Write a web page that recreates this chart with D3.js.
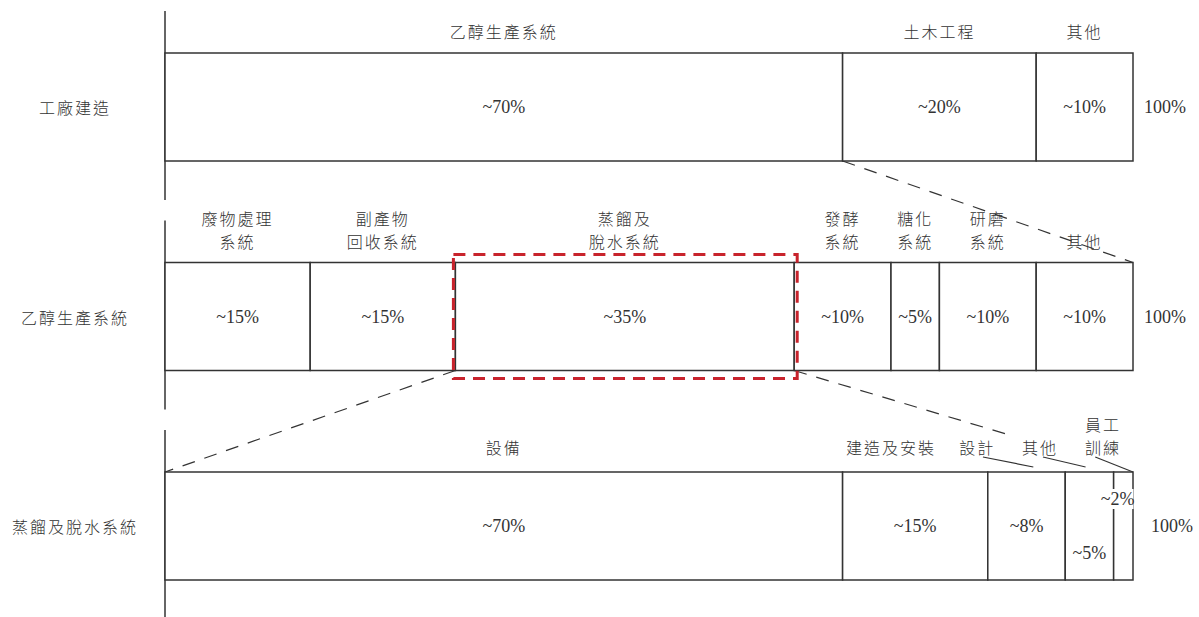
<!doctype html>
<html>
<head>
  <meta charset="utf-8">
  <title>工廠建造成本分解</title>
  <style>
    html, body { margin: 0; padding: 0; background: #fff; }
    svg { display: block; }
    .zh { font-family: "Noto Sans CJK TC", "Noto Sans CJK SC", sans-serif; font-weight: 300; }
    .num { font-family: "Liberation Serif", "Times New Roman", serif; }
  </style>
</head>
<body>
<div id="chart"></div>
<script src="https://cdn.jsdelivr.net/npm/d3@7/dist/d3.min.js"></script>
<script>
  // ---- data ----
  const rowNames = ["工廠建造", "乙醇生產系統", "蒸餾及脫水系統"];

  const plantParts = ["乙醇生產系統", "土木工程", "其他"];
  const plantShare = [70, 20, 10];

  const ethanolParts = [["廢物處理", "系統"], ["副產物", "回收系統"], ["蒸餾及", "脫水系統"],
                        ["發酵", "系統"], ["糖化", "系統"], ["研磨", "系統"], ["其他"]];
  const ethanolShare = [15, 15, 35, 10, 5, 10, 10];

  const distillParts = [["設備"], ["建造及安裝"], ["設計"], ["其他"], ["員工", "訓練"]];
  const distillShare = [70, 15, 8, 5, 2];

  const totalLabel = "100%";

  // ---- layout ----
  const W = 1199, H = 617;
  const barH = 108;
  const ink = "#333";
  const zhSize = 16, lineGap = 23;

  const x = d3.scaleLinear().domain([0, 100]).range([165, 1133]);
  const y = d3.scaleLinear().domain([0, 2]).range([53, 472]);

  const svg = d3.select("#chart").append("svg")
      .attr("width", W)
      .attr("height", H);

  function toSegs(shares) {
    let acc = 0;
    return shares.map(v => { const s = { x0: acc, x1: acc + v, v: v }; acc += v; return s; });
  }

  const rows = [
    { segs: toSegs(plantShare), labels: plantParts.map(d => [d]) },
    { segs: toSegs(ethanolShare), labels: ethanolParts },
    { segs: toSegs(distillShare), labels: distillParts }
  ];

  // label overrides for the crowded third row (in % units)
  const row3LabelAt = [35, 75, 83.9, 90.4, 96.9];
  const row3Leaders = [null, null, [84.5, 89.7], [90.7, 95.1], [96.1, 100]];
  const row3ValueDy = [0, 0, 0, 27, -27];
  const row3ValueAt = [35, 77.5, 89, 95.5, 98.4];

  // zoom guides (dashed lines)
  svg.append("line")
      .attr("x1", x(70)).attr("y1", y(0) + barH)
      .attr("x2", x(100)).attr("y2", y(1))
      .attr("stroke", ink).attr("stroke-width", 1.2)
      .attr("stroke-dasharray", "13,10");

  svg.append("line")
      .attr("x1", x(30)).attr("y1", y(1) + barH)
      .attr("x2", x(0)).attr("y2", y(2))
      .attr("stroke", ink).attr("stroke-width", 1.2)
      .attr("stroke-dasharray", "13,10");

  const t = 0.65;
  svg.append("line")
      .attr("x1", x(65)).attr("y1", y(1) + barH)
      .attr("x2", x(65) + (x(100) - x(65)) * t)
      .attr("y2", y(1) + barH + (y(2) - y(1) - barH) * t)
      .attr("stroke", ink).attr("stroke-width", 1.2)
      .attr("stroke-dasharray", "13,10");

  rows.forEach((row, r) => {
    const top = y(r);
    const g = svg.append("g");

    // left axis piece
    g.append("line")
        .attr("x1", x(0)).attr("x2", x(0))
        .attr("y1", top - 42).attr("y2", top + barH + (r === 2 ? 40 : 39))
        .attr("stroke", ink).attr("stroke-width", 1.5);

    // row title
    g.append("text").attr("class", "zh")
        .attr("x", 75).attr("y", top + barH / 2)
        .attr("text-anchor", "middle").attr("dominant-baseline", "central")
        .attr("font-size", zhSize).attr("letter-spacing", 2).attr("fill", ink)
        .text(rowNames[r]);

    // segments
    g.selectAll("rect").data(row.segs).join("rect")
        .attr("x", d => x(d.x0)).attr("y", top)
        .attr("width", d => x(d.x1) - x(d.x0)).attr("height", barH)
        .attr("fill", "#fff").attr("stroke", ink).attr("stroke-width", 1.5);

    // segment names above the bar
    row.segs.forEach((s, i) => {
      const lines = row.labels[i];
      const cx = r === 2 ? x(row3LabelAt[i]) : x((s.x0 + s.x1) / 2);
      lines.forEach((ln, k) => {
        g.append("text").attr("class", "zh")
            .attr("x", cx)
            .attr("y", top - 22 - (lines.length - 1 - k) * lineGap - (r === 2 ? 3 : 0))
            .attr("text-anchor", "middle").attr("dominant-baseline", "central")
            .attr("font-size", zhSize).attr("letter-spacing", 2).attr("fill", ink)
            .text(ln);
      });
      if (r === 2 && row3Leaders[i]) {
        const [a, b] = row3Leaders[i];
        g.append("line")
            .attr("x1", x(a)).attr("y1", top - 15)
            .attr("x2", x(b)).attr("y2", b === 100 ? top : top - 5)
            .attr("stroke", ink).attr("stroke-width", 1.2);
      }
    });

    // values inside
    row.segs.forEach((s, i) => {
      const cx = r === 2 ? x(row3ValueAt[i]) : x((s.x0 + s.x1) / 2);
      const cy = top + barH / 2 + (r === 2 ? row3ValueDy[i] : 0);
      const label = "~" + s.v + "%";
      if (r === 2 && i === 4) {
        g.append("rect")
            .attr("x", cx - 16).attr("y", cy - 10)
            .attr("width", 32).attr("height", 20)
            .attr("fill", "#fff");
      }
      g.append("text").attr("class", "num")
          .attr("x", cx).attr("y", cy)
          .attr("text-anchor", "middle").attr("dominant-baseline", "central")
          .attr("font-size", 18).attr("fill", ink)
          .text(label);
    });

    // total
    g.append("text").attr("class", "num")
        .attr("x", x(100) + (r === 2 ? 39 : 32)).attr("y", top + barH / 2)
        .attr("text-anchor", "middle").attr("dominant-baseline", "central")
        .attr("font-size", 18).attr("fill", ink)
        .text(totalLabel);
  });

  // highlight box around the distillation segment
  const hs = rows[1].segs[2];
  svg.append("rect")
      .attr("x", x(hs.x0) - 2).attr("y", y(1) - 8)
      .attr("width", x(hs.x1) - x(hs.x0) + 5).attr("height", barH + 16)
      .attr("fill", "none")
      .attr("stroke", "#c8232c").attr("stroke-width", 3)
      .attr("stroke-dasharray", "12,8");
</script>
</body>
</html>
